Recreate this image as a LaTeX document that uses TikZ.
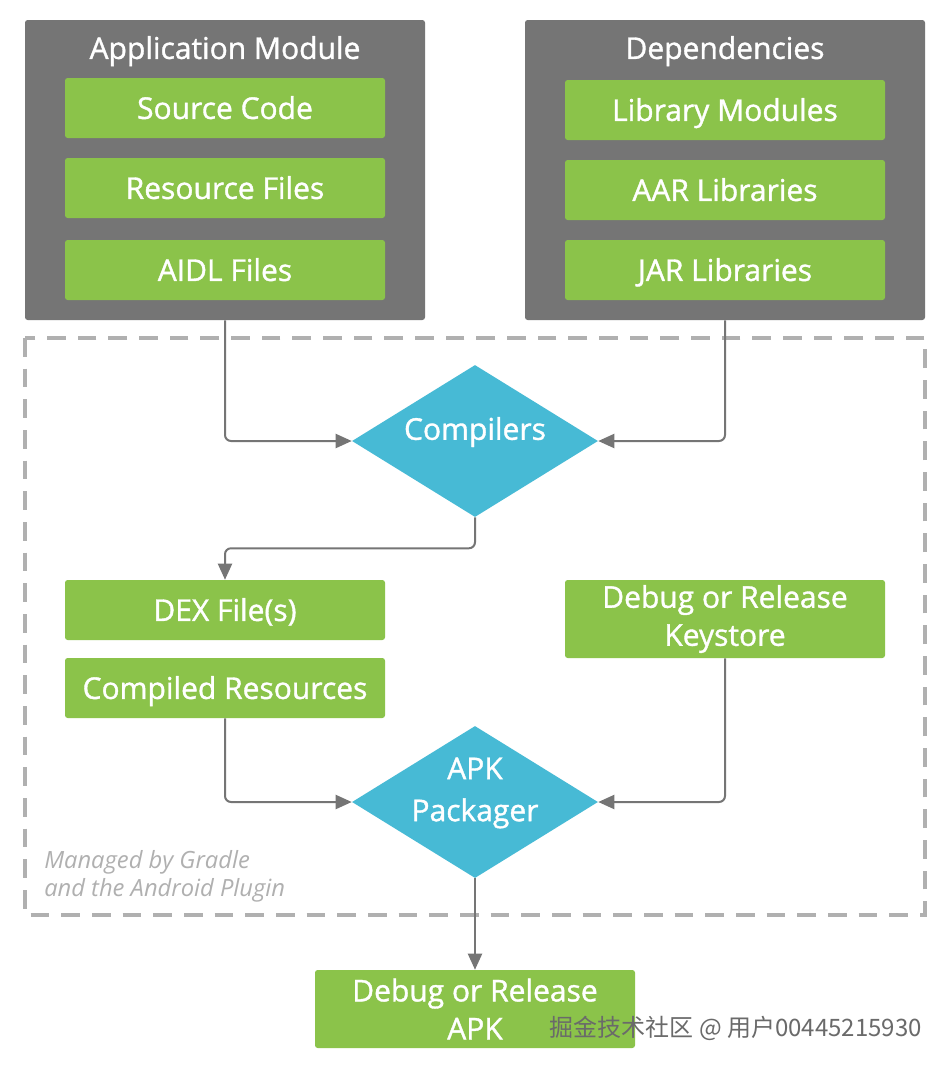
\documentclass[tikz,border=0pt]{standalone}
\usepackage{fontspec}
\setmainfont{Open Sans}
\newfontfamily\medfont{Open Sans}[FakeBold=1.2]
\newfontfamily\cjk{Noto Sans CJK SC}
\usetikzlibrary{shapes.geometric,arrows.meta}
\definecolor{modgray}{HTML}{757575}
\definecolor{agreen}{HTML}{8BC34A}
\definecolor{ablue}{HTML}{47BAD5}
\definecolor{linegray}{HTML}{757575}
\definecolor{dashgray}{HTML}{B0B0B0}
\definecolor{wmgray}{HTML}{6A6A6A}
\begin{document}
\begin{tikzpicture}[x=0.75pt,y=-0.75pt,
  module/.style={fill=modgray,rounded corners=2pt,minimum width=300pt,minimum height=225pt,inner sep=0pt},
  title/.style={text=white,font=\medfont\fontsize{22.5}{28.5}\selectfont,inner sep=0pt,text height=22pt,text depth=5.6pt},
  gbase/.style={fill=agreen,rounded corners=2pt,minimum width=240pt,minimum height=45pt,inner sep=0pt,
    text=white,font=\medfont\fontsize{22.5}{28.5}\selectfont,align=center},
  gbox/.style={gbase,text height=22pt,text depth=5.6pt},
  tallbox/.style={gbase,minimum height=58.5pt},
  dia/.style={diamond,fill=ablue,minimum width=184.5pt,minimum height=114pt,inner sep=0pt},
  diatext/.style={text=white,font=\medfont\fontsize{22.5}{31.5}\selectfont,align=center},
  conn/.style={draw=linegray,line width=1.5pt,rounded corners=4.5pt,-{Triangle[length=12pt,width=10.5pt]}},
  frame/.style={draw=dashgray,line width=2.4pt,dash pattern=on 14pt off 9pt},
  note/.style={text=dashgray,font=\itshape\fontsize{17.8}{21}\selectfont,align=left,anchor=north west,inner sep=0pt},
  wmark/.style={text=wmgray,font=\cjk\fontsize{18}{20}\selectfont,anchor=east,inner sep=0pt}]
\useasboundingbox[fill=white] (0,0) rectangle (950,1068);

% managed frame
\draw[frame] (25,338) rectangle (925,915);

% modules
\node[module] (appmod) at (225,170) {};
\node[title] (apptitle) at (225,48) {Application Module};
\node[gbox] (src) at (225,108) {Source Code};
\node[gbox] (res) at (225,188) {Resource Files};
\node[gbox] (aidl) at (225,270) {AIDL Files};

\node[module] (deps) at (725,170) {};
\node[title] (depstitle) at (725,48) {Dependencies};
\node[gbox] (libm) at (725,110) {Library Modules};
\node[gbox] (aar) at (725,190) {AAR Libraries};
\node[gbox] (jar) at (725,270) {JAR Libraries};

% compilers
\node[dia] (comp) at (475,441) {};
\node[diatext] (comptext) at (475,432) {Compilers};

% outputs
\node[gbox] (dex) at (225,610) {DEX File(s)};
\node[gbox] (cres) at (225,688) {Compiled Resources};
\node[tallbox] (keys) at (725,619) {Debug or Release\\Keystore};

% packager
\node[dia] (pack) at (475,802) {};
\node[diatext] (packtext) at (475,793) {APK\\Packager};

% final
\node[tallbox] (apk) at (475,1009) {Debug or Release\\APK};

% note
\node[note] (managed) at (44,850) {Managed by Gradle\\and the Android Plugin};

% connectors
\draw[conn] (appmod.south) |- (comp.west);
\draw[conn] (deps.south) |- (comp.east);
\draw[conn] (comp.south) -- ++(0,31) -| (dex.north);
\draw[conn] (cres.south) |- (pack.west);
\draw[conn] (keys.south) |- (pack.east);
\draw[conn] (pack.south) -- (apk.north);

% watermark
\node[wmark] (wm) at (922,1028) {掘金技术社区 @ 用户00445215930};
\end{tikzpicture}
\end{document}
